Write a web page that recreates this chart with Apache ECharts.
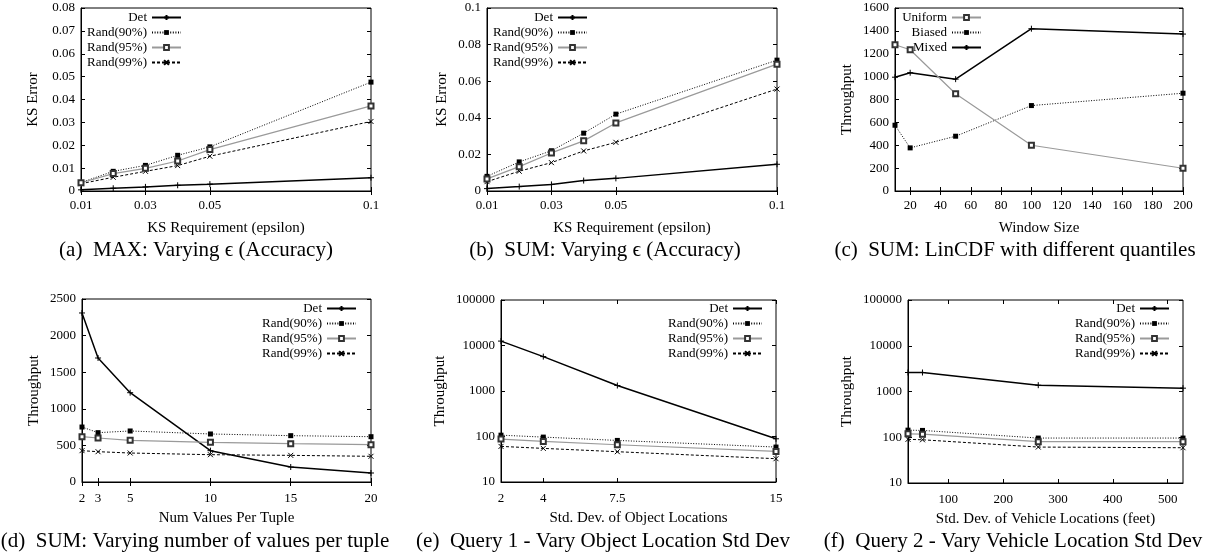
<!DOCTYPE html>
<html>
<head>
<meta charset="utf-8">
<script src="https://cdn.jsdelivr.net/npm/echarts@6/dist/echarts.min.js"></script>
<style>
  html, body { margin: 0; padding: 0; background: #fff; }
  #main { width: 1205px; height: 558px; }
</style>
</head>
<body>
<div id="main"></div>
<script>
// (a) MAX / (b) SUM: KS error against the KS requirement
const epsilon = [0.01, 0.02, 0.03, 0.04, 0.05, 0.1];
const epsilonTicks = [0.01, 0.03, 0.05, 0.1];
const maxDet = [0.0005, 0.0012, 0.0018, 0.0025, 0.003, 0.0058];
const maxRand90 = [0.0037, 0.0086, 0.0112, 0.0156, 0.0193, 0.0476];
const maxRand95 = [0.0036, 0.0076, 0.0099, 0.0131, 0.0181, 0.0372];
const maxRand99 = [0.0032, 0.006, 0.0086, 0.0111, 0.0152, 0.0304];
const sumDet = [0.0013, 0.0024, 0.0036, 0.0057, 0.0069, 0.0146];
const sumRand90 = [0.008, 0.0159, 0.022, 0.0316, 0.042, 0.0715];
const sumRand95 = [0.0066, 0.0133, 0.0208, 0.0274, 0.0372, 0.0693];
const sumRand99 = [0.0051, 0.0108, 0.0155, 0.0219, 0.0266, 0.0557];

// (c) LinCDF throughput against window size
const windowSize = [10, 20, 50, 100, 200];
const windowTicks = [20, 40, 60, 80, 100, 120, 140, 160, 180, 200];
const uniform = [1279, 1235, 850, 400, 199];
const biased = [575, 377, 479, 747, 855];
const mixed = [995, 1034, 978, 1419, 1372];

// (d) throughput against number of values per tuple
const numValues = [2, 3, 5, 10, 15, 20];
const tupDet = [2309, 1694, 1220, 428, 205, 123];
const tupRand90 = [751, 674, 697, 656, 633, 619];
const tupRand95 = [619, 601, 569, 542, 524, 510];
const tupRand99 = [428, 414, 396, 373, 364, 351];

// (e) Query 1: object location std dev (log scale)
const objStdDev = [2, 4, 7.5, 15];
const objDet = [12500, 5700, 1320, 89];
const objRand90 = [107, 97, 82, 58.6];
const objRand95 = [87.8, 78, 65.9, 47];
const objRand99 = [60.6, 54.8, 46.3, 32.5];

// (f) Query 2: vehicle location std dev in feet (log scale)
const vehStdDev = [26.4, 52.8, 264, 528];
const vehTicks = [100, 200, 300, 400, 500];
const vehDet = [2600, 2600, 1375, 1183];
const vehRand90 = [143, 141, 96, 96];
const vehRand95 = [119, 117, 80, 80];
const vehRand99 = [90, 88, 61, 59];

const captions = [
  '(a)  MAX: Varying \u03f5 (Accuracy)',
  '(b)  SUM: Varying \u03f5 (Accuracy)',
  '(c)  SUM: LinCDF with different quantiles',
  '(d)  SUM: Varying number of values per tuple',
  '(e)  Query 1 - Vary Object Location Std Dev',
  '(f)  Query 2 - Vary Vehicle Location Std Dev'
];

const FONT = 'Liberation Serif, Times New Roman, serif';
const plusPath = 'path://M0,5L10,5M5,0L5,10';
const crossPath = 'path://M0,0L10,10M10,0L0,10';

// gnuplot-like line styles
const styles = {
  det: {
    lineStyle: { color: '#000', width: 1.5 },
    symbol: plusPath, symbolSize: 6,
    itemStyle: { color: '#000', borderColor: '#000', borderWidth: 1 }
  },
  rand90: {
    lineStyle: { color: '#000', width: 1, type: [1, 1.6] },
    symbol: 'rect', symbolSize: 5,
    itemStyle: { color: '#000' }
  },
  rand95: {
    lineStyle: { color: '#9a9a9a', width: 1.2 },
    symbol: 'emptyRect', symbolSize: 5,
    itemStyle: { color: '#333', borderWidth: 1 }
  },
  rand99: {
    lineStyle: { color: '#000', width: 1, type: [3, 2] },
    symbol: crossPath, symbolSize: 5,
    itemStyle: { color: '#000', borderColor: '#000', borderWidth: 1 }
  }
};

function pairs(xs, ys) {
  return xs.map((x, i) => [x, ys[i]]);
}

function fmt(v) {
  return String(+(+v).toPrecision(6));
}

// one panel = grid + bottom/left axes + mirrored top/right tick axes
const panels = [
  {
    grid: { left: 81, top: 8, width: 290, height: 183 },
    x: { min: 0.01, max: 0.1, ticks: epsilonTicks, name: 'KS Requirement (epsilon)', gap: 30, margin: 8 },
    y: { type: 'value', min: 0, max: 0.08, interval: 0.01, name: 'KS Error', gap: 40 },
    legend: { right: 1023, top: 10 },
    series: [
      ['Det', 'det', pairs(epsilon, maxDet)],
      ['Rand(90%)', 'rand90', pairs(epsilon, maxRand90)],
      ['Rand(95%)', 'rand95', pairs(epsilon, maxRand95)],
      ['Rand(99%)', 'rand99', pairs(epsilon, maxRand99)]
    ]
  },
  {
    grid: { left: 487, top: 8, width: 290, height: 183 },
    x: { min: 0.01, max: 0.1, ticks: epsilonTicks, name: 'KS Requirement (epsilon)', gap: 30, margin: 8 },
    y: { type: 'value', min: 0, max: 0.1, interval: 0.02, name: 'KS Error', gap: 37 },
    legend: { right: 617, top: 10 },
    series: [
      ['Det', 'det', pairs(epsilon, sumDet)],
      ['Rand(90%)', 'rand90', pairs(epsilon, sumRand90)],
      ['Rand(95%)', 'rand95', pairs(epsilon, sumRand95)],
      ['Rand(99%)', 'rand99', pairs(epsilon, sumRand99)]
    ]
  },
  {
    grid: { left: 895, top: 8, width: 288, height: 183 },
    x: { min: 10, max: 200, ticks: windowTicks, name: 'Window Size', gap: 30, margin: 8 },
    y: { type: 'value', min: 0, max: 1600, interval: 200, name: 'Throughput', gap: 40 },
    legend: { right: 223, top: 10 },
    series: [
      ['Uniform', 'rand95', pairs(windowSize, uniform)],
      ['Biased', 'rand90', pairs(windowSize, biased)],
      ['Mixed', 'det', pairs(windowSize, mixed)]
    ]
  },
  {
    grid: { left: 82, top: 299, width: 289, height: 183 },
    x: { min: 2, max: 20, ticks: numValues, name: 'Num Values Per Tuple', gap: 29, margin: 10 },
    y: { type: 'value', min: 0, max: 2500, interval: 500, name: 'Throughput', gap: 40 },
    legend: { right: 848, top: 301 },
    series: [
      ['Det', 'det', pairs(numValues, tupDet)],
      ['Rand(90%)', 'rand90', pairs(numValues, tupRand90)],
      ['Rand(95%)', 'rand95', pairs(numValues, tupRand95)],
      ['Rand(99%)', 'rand99', pairs(numValues, tupRand99)]
    ]
  },
  {
    grid: { left: 501, top: 300, width: 275, height: 182 },
    x: { min: 2, max: 15, ticks: objStdDev, name: 'Std. Dev. of Object Locations', gap: 29, margin: 10 },
    y: { type: 'log', min: 10, max: 100000, name: 'Throughput', gap: 53 },
    legend: { right: 442, top: 301 },
    series: [
      ['Det', 'det', pairs(objStdDev, objDet)],
      ['Rand(90%)', 'rand90', pairs(objStdDev, objRand90)],
      ['Rand(95%)', 'rand95', pairs(objStdDev, objRand95)],
      ['Rand(99%)', 'rand99', pairs(objStdDev, objRand99)]
    ]
  },
  {
    grid: { left: 908, top: 300, width: 275, height: 183 },
    x: { min: 26.4, max: 528, ticks: vehTicks, name: 'Std. Dev. of Vehicle Locations (feet)', gap: 29, margin: 10 },
    y: { type: 'log', min: 10, max: 100000, name: 'Throughput', gap: 53 },
    legend: { right: 35, top: 301 },
    series: [
      ['Det', 'det', pairs(vehStdDev, vehDet)],
      ['Rand(90%)', 'rand90', pairs(vehStdDev, vehRand90)],
      ['Rand(95%)', 'rand95', pairs(vehStdDev, vehRand95)],
      ['Rand(99%)', 'rand99', pairs(vehStdDev, vehRand99)]
    ]
  }
];

const tickStyle = { inside: true, length: 4, lineStyle: { color: '#000', width: 1 } };
const labelFont = { fontFamily: FONT, fontSize: 13, color: '#000' };

let grids = [], xAxes = [], yAxes = [], legends = [], series = [], texts = [];

panels.forEach((p, i) => {
  grids.push(Object.assign({ show: true, borderColor: '#000', borderWidth: 1, containLabel: false }, p.grid));

  // bottom x axis with labels
  xAxes.push({
    type: 'value', gridIndex: i, min: p.x.min, max: p.x.max,
    name: p.x.name, nameLocation: 'middle', nameGap: p.x.gap,
    nameTextStyle: { fontFamily: FONT, fontSize: 15, color: '#000' },
    axisLine: { show: true, lineStyle: { color: '#000', width: 1 } },
    axisTick: Object.assign({ customValues: p.x.ticks }, tickStyle),
    axisLabel: Object.assign({ customValues: p.x.ticks, margin: p.x.margin, formatter: fmt }, labelFont),
    splitLine: { show: false }
  });
  // top mirror ticks
  xAxes.push({
    type: 'value', gridIndex: i, position: 'top', min: p.x.min, max: p.x.max,
    axisLine: { show: false },
    axisTick: Object.assign({ customValues: p.x.ticks }, tickStyle),
    axisLabel: { show: false },
    splitLine: { show: false }
  });

  let yBase = { type: p.y.type, gridIndex: i, min: p.y.min, max: p.y.max };
  if (p.y.interval) yBase.interval = p.y.interval;
  if (p.y.type === 'log') yBase.logBase = 10;

  yAxes.push(Object.assign({}, yBase, {
    name: p.y.name, nameLocation: 'middle', nameGap: p.y.gap,
    nameTextStyle: { fontFamily: FONT, fontSize: 15, color: '#000' },
    axisLine: { show: true, lineStyle: { color: '#000', width: 1 } },
    axisTick: tickStyle,
    axisLabel: Object.assign({ margin: 6, formatter: fmt }, labelFont),
    splitLine: { show: false }
  }));
  yAxes.push(Object.assign({}, yBase, {
    position: 'right',
    axisLine: { show: false },
    axisTick: tickStyle,
    axisLabel: { show: false },
    splitLine: { show: false }
  }));

  legends.push({
    orient: 'vertical', align: 'right', padding: 0, itemGap: 0,
    itemWidth: 29, itemHeight: 6,
    right: p.legend.right, top: p.legend.top,
    selectedMode: false,
    data: p.series.map(s => s[0]),
    textStyle: { fontFamily: FONT, fontSize: 13, color: '#000', lineHeight: 15 }
  });

  p.series.forEach(s => {
    const st = styles[s[1]];
    series.push({
      type: 'line', name: s[0], data: s[2],
      xAxisIndex: 2 * i, yAxisIndex: 2 * i,
      symbol: st.symbol, symbolSize: st.symbolSize, showSymbol: true,
      lineStyle: st.lineStyle, itemStyle: st.itemStyle,
      emphasis: { disabled: true }, z: s[1] === 'rand95' ? 3 : 2
    });
  });
});

// captions under each panel
const captionPos = [[196, 250], [605, 250], [1015, 250], [195, 541], [603, 541], [1013, 541]];
captions.forEach((c, i) => {
  texts.push({
    type: 'text', x: captionPos[i][0], y: captionPos[i][1],
    style: { text: c, fontFamily: FONT, fontSize: 21, fill: '#000', textAlign: 'center', textVerticalAlign: 'middle' }
  });
});

const chart = echarts.init(document.getElementById('main'), null, { renderer: 'canvas' });
chart.setOption({
  animation: false,
  backgroundColor: '#fff',
  grid: grids,
  xAxis: xAxes,
  yAxis: yAxes,
  legend: legends,
  series: series,
  graphic: texts
});
</script>
</body>
</html>
